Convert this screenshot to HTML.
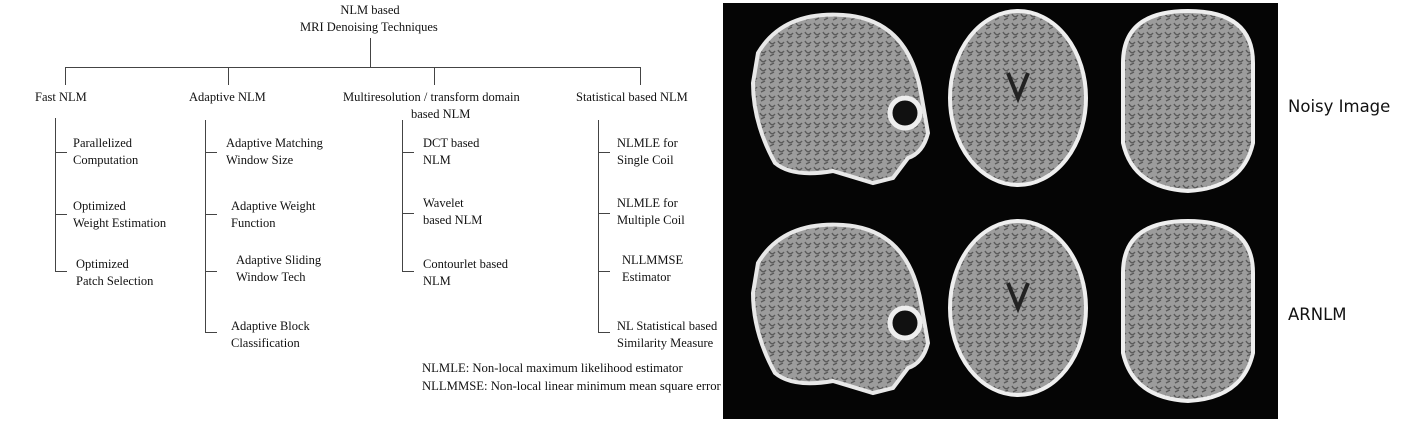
<!DOCTYPE html>
<html><head><meta charset="utf-8"><style>
html,body{margin:0;padding:0;background:#fff;}
#c{position:relative;width:1407px;height:431px;overflow:hidden;font-family:"Liberation Serif",serif;font-size:12.5px;color:#111;}
.t{position:absolute;white-space:nowrap;line-height:17px;}
.l{position:absolute;background:#444;}
.s{position:absolute;font-family:"DejaVu Sans","Liberation Sans",sans-serif;font-size:16.5px;color:#111;}
</style></head><body><div id="c">
<div class="t" style="left:337px;top:2px;width:66px;text-align:center">NLM based</div>
<div class="t" style="left:300px;top:19px;">MRI Denoising Techniques</div>
<div class="l" style="left:370px;top:38px;width:1px;height:30px"></div>
<div class="l" style="left:65px;top:67px;width:576px;height:1px"></div>
<div class="l" style="left:65px;top:67px;width:1px;height:18px"></div>
<div class="l" style="left:228px;top:67px;width:1px;height:18px"></div>
<div class="l" style="left:434px;top:67px;width:1px;height:18px"></div>
<div class="l" style="left:640px;top:67px;width:1px;height:18px"></div>
<div class="t" style="left:35px;top:89px">Fast NLM</div>
<div class="t" style="left:189px;top:89px">Adaptive NLM</div>
<div class="t" style="left:343px;top:89px">Multiresolution / transform domain</div>
<div class="t" style="left:411px;top:106px">based NLM</div>
<div class="t" style="left:576px;top:89px">Statistical based NLM</div>
<div class="l" style="left:55px;top:118px;width:1px;height:154px"></div>
<div class="l" style="left:55px;top:152px;width:12px;height:1px"></div>
<div class="l" style="left:55px;top:214px;width:12px;height:1px"></div>
<div class="l" style="left:55px;top:271px;width:12px;height:1px"></div>
<div class="t" style="left:73px;top:135px">Parallelized<br>Computation</div>
<div class="t" style="left:73px;top:198px">Optimized<br>Weight Estimation</div>
<div class="t" style="left:76px;top:256px">Optimized<br>Patch Selection</div>
<div class="l" style="left:205px;top:120px;width:1px;height:213px"></div>
<div class="l" style="left:205px;top:152px;width:12px;height:1px"></div>
<div class="l" style="left:205px;top:214px;width:12px;height:1px"></div>
<div class="l" style="left:205px;top:271px;width:12px;height:1px"></div>
<div class="l" style="left:205px;top:332px;width:12px;height:1px"></div>
<div class="t" style="left:226px;top:135px">Adaptive Matching<br>Window Size</div>
<div class="t" style="left:231px;top:198px">Adaptive Weight<br>Function</div>
<div class="t" style="left:236px;top:252px">Adaptive Sliding<br>Window Tech</div>
<div class="t" style="left:231px;top:318px">Adaptive Block<br>Classification</div>
<div class="l" style="left:402px;top:120px;width:1px;height:152px"></div>
<div class="l" style="left:402px;top:152px;width:12px;height:1px"></div>
<div class="l" style="left:402px;top:213px;width:12px;height:1px"></div>
<div class="l" style="left:402px;top:271px;width:12px;height:1px"></div>
<div class="t" style="left:423px;top:135px">DCT based<br>NLM</div>
<div class="t" style="left:423px;top:195px">Wavelet<br>based NLM</div>
<div class="t" style="left:423px;top:256px">Contourlet based<br>NLM</div>
<div class="l" style="left:598px;top:120px;width:1px;height:213px"></div>
<div class="l" style="left:598px;top:152px;width:12px;height:1px"></div>
<div class="l" style="left:598px;top:213px;width:12px;height:1px"></div>
<div class="l" style="left:598px;top:271px;width:12px;height:1px"></div>
<div class="l" style="left:598px;top:332px;width:12px;height:1px"></div>
<div class="t" style="left:617px;top:135px">NLMLE for<br>Single Coil</div>
<div class="t" style="left:617px;top:195px">NLMLE for<br>Multiple Coil</div>
<div class="t" style="left:622px;top:252px">NLLMMSE<br>Estimator</div>
<div class="t" style="left:617px;top:318px">NL Statistical based<br>Similarity Measure</div>
<div class="t" style="left:422px;top:360px;font-size:12.7px">NLMLE: Non-local maximum likelihood estimator</div>
<div class="t" style="left:422px;top:378px;font-size:12.7px">NLLMMSE: Non-local linear minimum mean square error</div>
<svg style="position:absolute;left:723px;top:3px" width="555" height="416">
<rect width="555" height="416" fill="#050505"/>
<defs>
<pattern id="g" width="9" height="9" patternUnits="userSpaceOnUse"><rect width="9" height="9" fill="#9c9c9c"/><path d="M1 2 Q4 7 7 3 M2 8 L6 6" stroke="#5a5a5a" stroke-width="1.4" fill="none"/></pattern>
</defs>
<g id="row">
<path d="M35 50 Q60 8 120 12 Q185 16 198 90 L205 130 Q200 150 185 155 L170 175 L150 180 L110 168 Q70 175 52 160 Q30 120 30 80 Z" fill="url(#g)" stroke="#e8e8e8" stroke-width="4"/>
<circle cx="182" cy="110" r="15" fill="#111" stroke="#eee" stroke-width="5"/>
<ellipse cx="295" cy="95" rx="68" ry="87" fill="url(#g)" stroke="#eee" stroke-width="4"/>
<path d="M285 70 L295 95 L305 70" stroke="#222" stroke-width="4" fill="none"/>
<path d="M400 60 Q400 8 465 8 Q530 8 530 60 L530 140 Q520 185 465 188 Q410 185 400 140 Z" fill="url(#g)" stroke="#eee" stroke-width="4"/>
</g>
<use href="#row" transform="translate(0,210)"/>
</svg>
<div class="s" style="left:1288px;top:97px">Noisy Image</div>
<div class="s" style="left:1288px;top:305px">ARNLM</div>
</div></body></html>
